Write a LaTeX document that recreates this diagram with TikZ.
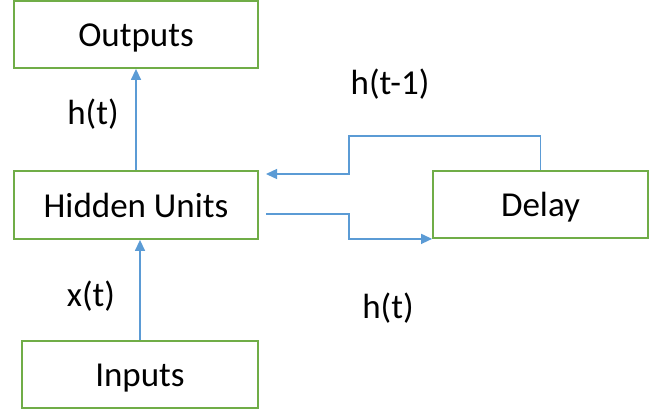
\documentclass[tikz,border=0pt]{standalone}
\usepackage{fontspec}
\setmainfont{Carlito}
\usepackage{xcolor}
\usetikzlibrary{arrows.meta}
\usetikzlibrary{positioning}

\begin{document}
\begin{tikzpicture}[x=1pt, y=-1pt,
		unitbox/.style={draw=BOX_GREEN, line width=1.8pt, fill=white, inner sep=0pt,
			text height=28pt, text depth=4pt, font=\fontsize{35}{40}\selectfont},
		flow/.style={draw=LINE_BLUE, line width=1.4pt, -{Triangle[length=11pt, width=10pt]}},
		signal/.style={font=\fontsize{35}{40}\selectfont, inner sep=0pt}]
				\definecolor{BOX_GREEN}{RGB}{112, 173, 71}
				\definecolor{LINE_BLUE}{RGB}{91, 155, 213}
				\useasboundingbox (0, 0) rectangle (663, 410);

				% boxes
				\node[unitbox, minimum width=244pt, minimum height=67pt] (outputs) at (136, 34.5) {Outputs};
				\node[unitbox, minimum width=244pt, minimum height=68pt] (hidden) at (136, 205) {Hidden Units};
				\node[unitbox, minimum width=236pt, minimum height=67pt] (inputs) at (140, 374.5) {Inputs};
				\node[unitbox, minimum width=215pt, minimum height=67pt] (delay) at (540.5, 204.5) {Delay};

				% loose ends of the loop
				\coordinate (fbtop) at (349, 136);
				\coordinate (fbin) at (266, 174);
				\coordinate (fwout) at (266, 214);
				\coordinate (fwmid) at (349, 226);

				% connectors
				\draw[flow] (hidden.north) -- (outputs.south);
				\draw[flow] (inputs.north) -- (inputs.north |- hidden.south);
				\draw[flow] (delay.north) |- (fbtop) |- (fbin);
				\draw[flow] (fwout) -| (fwmid) |- (delay.south west);

				% labels
				\node[signal] (hout) at (93, 114) {h(t)};
				\node[signal] (xin) at (91, 296) {x(t)};
				\node[signal] (hprev) at (390, 84) {h(t-1)};
				\node[signal] (hnow) at (388, 308) {h(t)};
\end{tikzpicture}
\end{document}
